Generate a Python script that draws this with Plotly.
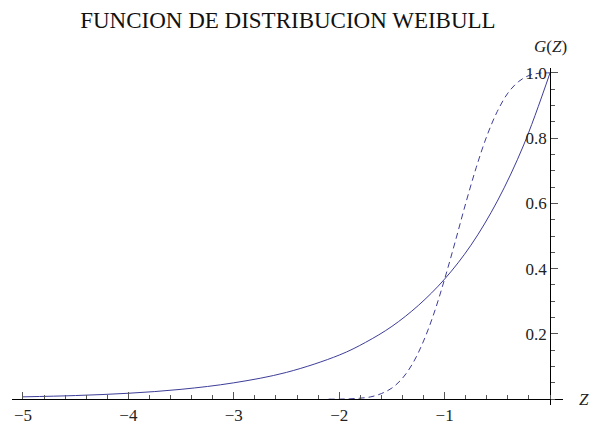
import plotly.graph_objects as go

# Solid curve: G(Z) read at sample points of Z
z_solid = [-5.0, -4.5, -4.0, -3.5, -3.0, -2.5, -2.0, -1.75, -1.5, -1.25, -1.0,
           -0.75, -0.5, -0.25, 0.0]
g_solid = [0.007, 0.011, 0.018, 0.030, 0.050, 0.082, 0.135, 0.174, 0.223, 0.287,
           0.368, 0.472, 0.607, 0.779, 1.0]

# Dashed curve: G(Z) read at sample points of Z
z_dash = [-2.1, -2.0, -1.9, -1.8, -1.7, -1.6, -1.5, -1.4, -1.3, -1.2, -1.1, -1.0,
          -0.9, -0.8, -0.7, -0.6, -0.5, -0.4, -0.3, -0.2, -0.1, 0.0]
g_dash = [0.0, 0.0, 0.001, 0.003, 0.007, 0.017, 0.034, 0.064, 0.111, 0.178, 0.264,
          0.368, 0.482, 0.600, 0.710, 0.806, 0.882, 0.938, 0.973, 0.992, 0.999, 1.0]

x_ticks = [-5, -4, -3, -2, -1]
x_tick_text = ["\u22125", "\u22124", "\u22123", "\u22122", "\u22121"]
y_ticks = [0.2, 0.4, 0.6, 0.8, 1.0]
y_tick_text = ["0.2", "0.4", "0.6", "0.8", "1.0"]

line_color = "#3d3d99"
serif = "Liberation Serif"

x_range = [-5.104, 0.123]
y_range = [-0.018, 1.015]

fig = go.Figure()
fig.add_trace(go.Scatter(x=z_solid, y=g_solid, mode="lines",
                         line=dict(color=line_color, width=1, shape="spline"),
                         hoverinfo="skip"))
fig.add_trace(go.Scatter(x=z_dash, y=g_dash, mode="lines",
                         line=dict(color=line_color, width=1, dash="6px,4px",
                                   shape="spline"),
                         hoverinfo="skip"))

# axes cross at the origin
x_axis_pos = (0 - y_range[0]) / (y_range[1] - y_range[0])
y_axis_pos = (0 - x_range[0]) / (x_range[1] - x_range[0])

tick_font = dict(family=serif, size=17, color="#222")

fig.update_layout(
    width=590, height=426,
    margin=dict(l=12, r=27, t=68, b=21, autoexpand=False),
    paper_bgcolor="white", plot_bgcolor="white",
    showlegend=False,
    font=dict(family=serif, size=16, color="#222"),
    title=dict(text="FUNCION DE DISTRIBUCION WEIBULL", x=0.488, xanchor="center",
               y=0.953, yanchor="middle", automargin=False,
               font=dict(family=serif, size=23, color="#111")),
    xaxis=dict(range=x_range, anchor="free", position=x_axis_pos,
               automargin=False,
               showgrid=False, zeroline=False, showline=True,
               linecolor="black", linewidth=1,
               tickmode="array", tickvals=x_ticks, ticktext=x_tick_text,
               ticks="inside", ticklen=7, tickcolor="#555", tickwidth=1,
               minor=dict(dtick=0.2, tick0=0, ticks="inside", ticklen=4,
                          tickcolor="#555", tickwidth=1),
               tickfont=tick_font),
    yaxis=dict(range=y_range, anchor="free", position=y_axis_pos,
               automargin=False,
               showgrid=False, zeroline=False, showline=True,
               linecolor="black", linewidth=1,
               tickmode="array", tickvals=y_ticks, ticktext=y_tick_text,
               ticks="inside", ticklen=7, tickcolor="#555", tickwidth=1,
               minor=dict(dtick=0.05, tick0=0, ticks="inside", ticklen=4,
                          tickcolor="#555", tickwidth=1),
               tickfont=tick_font),
    annotations=[
        dict(text="<i>G</i>(<i>Z</i>)", xref="paper", yref="paper",
             x=y_axis_pos, y=1.065, xanchor="center", yanchor="middle",
             showarrow=False,
             font=dict(family=serif, size=17, color="#222")),
        dict(text="<i>Z</i>", xref="paper", yref="paper",
             x=1, y=x_axis_pos, xanchor="left", yanchor="middle", xshift=14,
             showarrow=False, font=dict(family=serif, size=17, color="#222")),
    ],
)

fig.write_html("out.html")
